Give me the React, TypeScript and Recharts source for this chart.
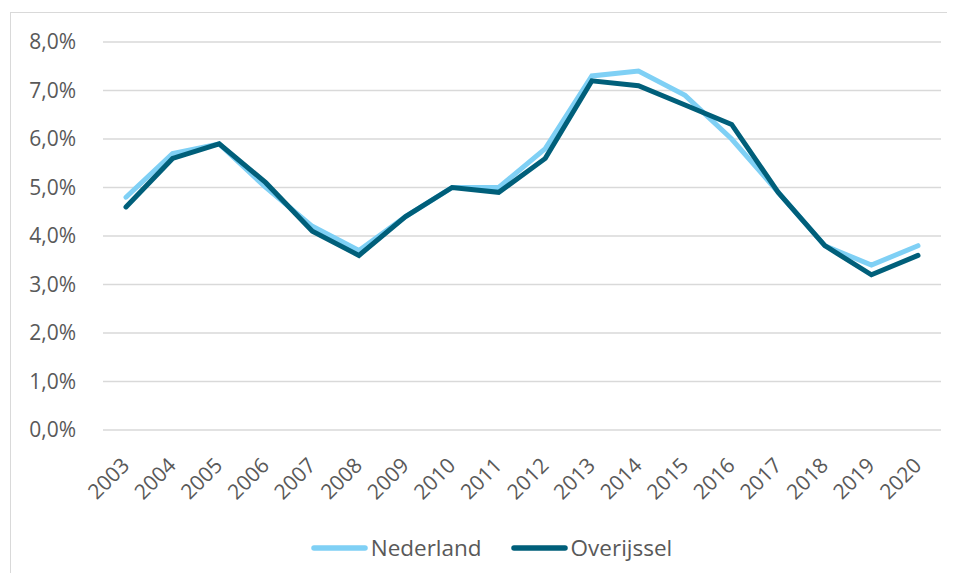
import { CartesianGrid, Legend, Line, LineChart, XAxis, YAxis } from "recharts";

const years = ["2003", "2004", "2005", "2006", "2007", "2008", "2009", "2010", "2011", "2012", "2013", "2014", "2015", "2016", "2017", "2018", "2019", "2020"];
const nederland = [4.8, 5.7, 5.9, 5.0, 4.2, 3.7, 4.4, 5.0, 5.0, 5.8, 7.3, 7.4, 6.9, 6.0, 4.9, 3.8, 3.4, 3.8];
const overijssel = [4.6, 5.6, 5.9, 5.1, 4.1, 3.6, 4.4, 5.0, 4.9, 5.6, 7.2, 7.1, 6.7, 6.3, 4.9, 3.8, 3.2, 3.6];
const yTicks = [0, 1, 2, 3, 4, 5, 6, 7, 8];

const data = years.map((year, i) => ({ year, Nederland: nederland[i], Overijssel: overijssel[i] }));

const FONT = "'Open Sans', 'Noto Sans', sans-serif";
const TEXT = "#595959";

const fmt = (v: number) => v.toFixed(1).replace(".", ",") + "%";

function XTick({ x, y, payload }: any) {
  const ax = x - 1;
  const ay = y + 23;
  return (
    <text
      x={ax}
      y={ay}
      transform={`rotate(-45, ${ax}, ${ay})`}
      textAnchor="end"
      dominantBaseline="central"
      fill={TEXT}
      fontSize={21}
      fontFamily={FONT}
    >
      {payload.value}
    </text>
  );
}

function LegendContent({ payload }: any) {
  return (
    <div
      style={{
        display: "flex",
        justifyContent: "center",
        gap: 29,
        paddingLeft: 42,
        fontFamily: FONT,
        fontSize: 22.5,
        color: TEXT,
        lineHeight: "26px",
      }}
    >
      {(payload || []).map((p: any) => (
        <div key={p.value} style={{ display: "flex", alignItems: "center", gap: 3 }}>
          <svg width={57} height={10}>
            <line x1={3} y1={5} x2={54} y2={5} stroke={p.color} strokeWidth={5.5} strokeLinecap="round" />
          </svg>
          <span>{p.value}</span>
        </div>
      ))}
    </div>
  );
}

export default function App() {
  return (
    <div style={{ position: "relative", width: 955, height: 581, margin: -8, overflow: "hidden", background: "#fff" }}>
      <div style={{ position: "absolute", left: 10, top: 12, width: 980, height: 620, border: "1.5px solid #d9d9d9" }} />
      <LineChart width={955} height={581} data={data} margin={{ top: 42, right: 14, bottom: 20, left: 0 }}>
        <CartesianGrid vertical={false} stroke="#d9d9d9" strokeWidth={1.5} />
        <XAxis
          dataKey="year"
          axisLine={false}
          tickLine={false}
          height={105}
          interval={0}
          padding={{ left: 23, right: 23 }}
          tick={<XTick />}
        />
        <YAxis
          domain={[0, 8]}
          ticks={yTicks}
          tickFormatter={fmt}
          axisLine={false}
          tickLine={false}
          tickSize={0}
          tickMargin={27}
          width={103}
          tick={{ fill: TEXT, fontSize: 21, fontFamily: FONT }}
        />
        <Legend verticalAlign="bottom" height={26} content={<LegendContent />} />
        <Line dataKey="Nederland" stroke="#7fd0f5" strokeWidth={5} dot={false} isAnimationActive={false} strokeLinecap="round" />
        <Line dataKey="Overijssel" stroke="#005f7a" strokeWidth={5} dot={false} isAnimationActive={false} strokeLinecap="round" />
      </LineChart>
    </div>
  );
}
